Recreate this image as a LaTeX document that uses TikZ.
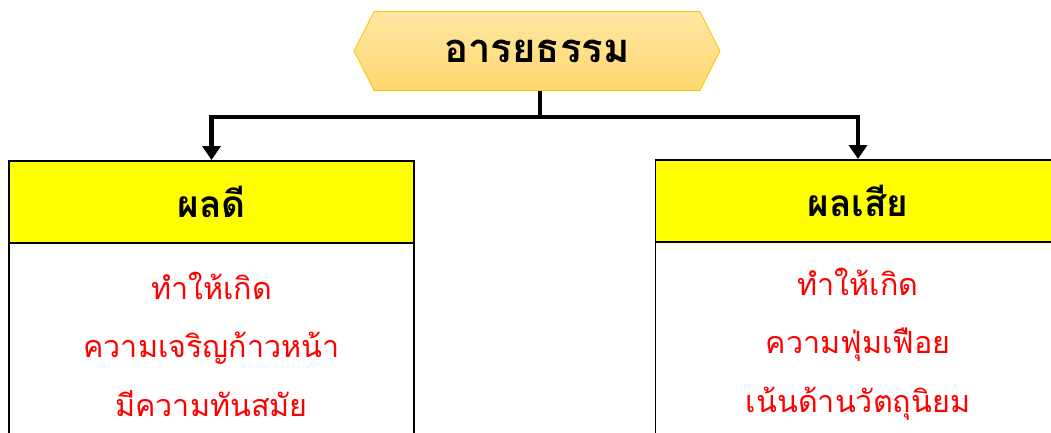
\documentclass[tikz,border=0pt]{standalone}
\usepackage{fontspec}
\usetikzlibrary{shapes.symbols,arrows.meta,positioning}
\newfontfamily\thaifont[Script=Thai]{Loma}
\definecolor{hexfillA}{HTML}{FFE7A3}
\definecolor{hexfillB}{HTML}{FFD76E}
\definecolor{hexline}{HTML}{FFC000}
\definecolor{headyellow}{HTML}{FFFF00}
\tikzset{
  titlebox/.style={shape=signal, signal to=west and east, signal pointer angle=126,
    top color=hexfillA, bottom color=hexfillB, draw=hexline, line width=0.8pt,
    minimum width=366pt, minimum height=79pt, inner sep=0pt,
    font=\thaifont\bfseries\fontsize{40}{46}\selectfont},
  headbox/.style={rectangle, fill=headyellow, draw=black, line width=1.6pt,
    minimum width=405pt, minimum height=82pt, inner sep=0pt,
    font=\thaifont\bfseries\fontsize{37}{42}\selectfont},
  bodybox/.style={rectangle, fill=white, draw=black, line width=1.6pt,
    minimum width=405pt, minimum height=220pt, inner sep=0pt},
  redtext/.style={text=red, align=center, inner sep=0pt,
    font=\thaifont\fontsize{30.5}{58.5}\selectfont},
  conn/.style={line width=4.5pt, line cap=butt},
  connarrow/.style={line width=4.5pt, -{Triangle[width=18pt,length=14pt]}}
}
\begin{document}
\begin{tikzpicture}[x=1pt,y=-1pt]
\useasboundingbox (0,0) rectangle (1051,432);
\clip (0,0) rectangle (1051,432);
\fill[white] (0,0) rectangle (1051,432);
\node[titlebox] (title) at (537,51) {อารยธรรม};
\node[bodybox, anchor=north] (goodbody) at (211.5,242) {};
\node[headbox, anchor=north] (good) at (211.5,160) {ผลดี};
\node[bodybox, anchor=north] (badbody) at (858,241) {};
\node[headbox, anchor=north] (bad) at (858,159) {ผลเสีย};
\coordinate (stem) at (540,117);
\coordinate (lt) at (211.5,117);
\coordinate (rt) at (858,117);
\draw[conn] (title.south -| stem) -- (stem);
\draw[conn] ([xshift=-2.25pt]lt) -- ([xshift=2.25pt]rt);
\draw[connarrow] ([yshift=-2pt]lt) -- (good.north);
\draw[connarrow] ([yshift=-2pt]rt) -- (bad.north);
\node[redtext] (goodtxt) at (211.5,344) {ทำให้เกิด\\ความเจริญก้าวหน้า\\มีความทันสมัย};
\node[redtext] (badtxt) at (858,344) {ทำให้เกิด\\ความฟุ่มเฟือย\\เน้นด้านวัตถุนิยม};
\end{tikzpicture}
\end{document}
